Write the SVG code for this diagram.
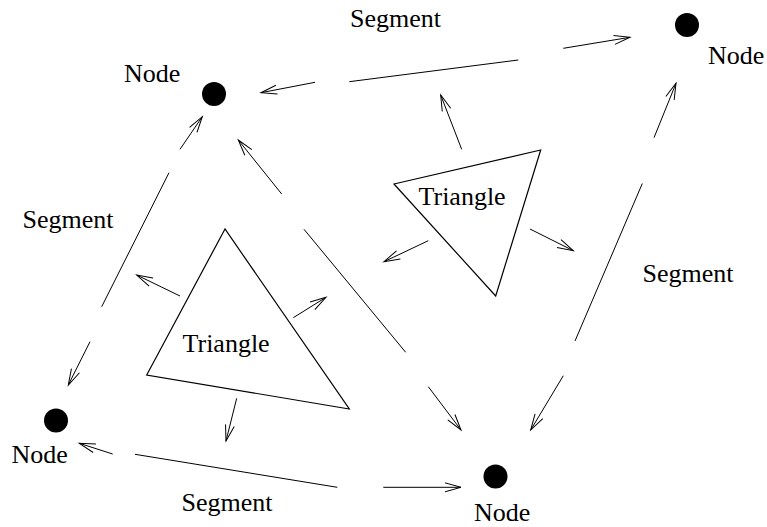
<svg xmlns="http://www.w3.org/2000/svg" width="767" height="527" viewBox="0 0 767 527">
<style>
text{font-family:"Liberation Serif","Times New Roman",serif;font-size:26px;fill:#000}
.ln{fill:none;stroke:#000;stroke-width:1}
.ar{fill:none;stroke:#000;stroke-width:1;marker-end:url(#arr)}
.dot{fill:#000}
.tri{fill:none;stroke:#000;stroke-width:1.2;stroke-linejoin:miter}
</style>
<defs>
<marker id="arr" viewBox="-17 -6 19 12" refX="0" refY="0" markerWidth="19" markerHeight="12" markerUnits="userSpaceOnUse" orient="auto">
<path d="M-16,-4.5 L0,0 L-16,4.5" fill="none" stroke="#000" stroke-width="1"/>
</marker>
</defs>
<rect width="767" height="527" fill="#fff"/>
<g id="node-top-left"><circle class="dot" cx="214" cy="94" r="12"/><text x="124" y="82">Node</text></g>
<g id="node-top-right"><circle class="dot" cx="687" cy="25" r="12"/><text x="708" y="64">Node</text></g>
<g id="node-bottom-left"><circle class="dot" cx="56" cy="420.5" r="12"/><text x="11.5" y="463">Node</text></g>
<g id="node-bottom-right"><circle class="dot" cx="495.5" cy="476.5" r="12"/><text x="474" y="520.5">Node</text></g>
<g id="triangle-left"><polygon class="tri" points="225,229 146.7,375 349.3,409"/><text x="182.5" y="352">Triangle</text></g>
<g id="triangle-right"><polygon class="tri" points="394,184 540.7,150 495.7,296"/><text x="418.5" y="205">Triangle</text></g>
<g id="connectors">
<g id="seg-top">
<line class="ar" x1="315" y1="82.3" x2="261" y2="92.7"/>
<line class="ln" x1="349.3" y1="81.7" x2="518.3" y2="60"/>
<line class="ar" x1="563.3" y1="48.3" x2="630" y2="37.3"/>
<text x="350" y="27">Segment</text>
</g>
<g id="seg-left">
<line class="ar" x1="180" y1="149.3" x2="202.3" y2="116.7"/>
<line class="ln" x1="169" y1="172.7" x2="101.7" y2="306.7"/>
<line class="ar" x1="90" y1="341.7" x2="68.3" y2="385"/>
<text x="22.5" y="228">Segment</text>
</g>
<g id="seg-bottom">
<line class="ar" x1="112.7" y1="454" x2="79.3" y2="443.3"/>
<line class="ln" x1="135" y1="454.3" x2="337.3" y2="487.3"/>
<line class="ar" x1="383.3" y1="487.3" x2="461" y2="487.3"/>
<text x="181.5" y="510.5">Segment</text>
</g>
<g id="seg-right">
<line class="ar" x1="563.3" y1="375.7" x2="530.7" y2="430"/>
<line class="ln" x1="575" y1="341" x2="642.3" y2="183.5"/>
<line class="ar" x1="654" y1="137.7" x2="676" y2="83.3"/>
<text x="642.5" y="281.5">Segment</text>
</g>
<g id="seg-diagonal">
<line class="ar" x1="281.7" y1="194" x2="238.3" y2="140"/>
<line class="ln" x1="304" y1="229.3" x2="405.7" y2="352.3"/>
<line class="ar" x1="428.3" y1="386.7" x2="461" y2="430"/>
</g>
<g id="tri-left-arrows">
<line class="ar" x1="180" y1="296" x2="136.7" y2="275"/>
<line class="ar" x1="293.3" y1="317.7" x2="326" y2="297.3"/>
<line class="ar" x1="236.7" y1="398.3" x2="226" y2="441"/>
</g>
<g id="tri-right-arrows">
<line class="ar" x1="461.7" y1="149.3" x2="440.7" y2="95"/>
<line class="ar" x1="428.3" y1="240.7" x2="384" y2="261.7"/>
<line class="ar" x1="530" y1="229" x2="573.3" y2="250.7"/>
</g>
</g>
</svg>
